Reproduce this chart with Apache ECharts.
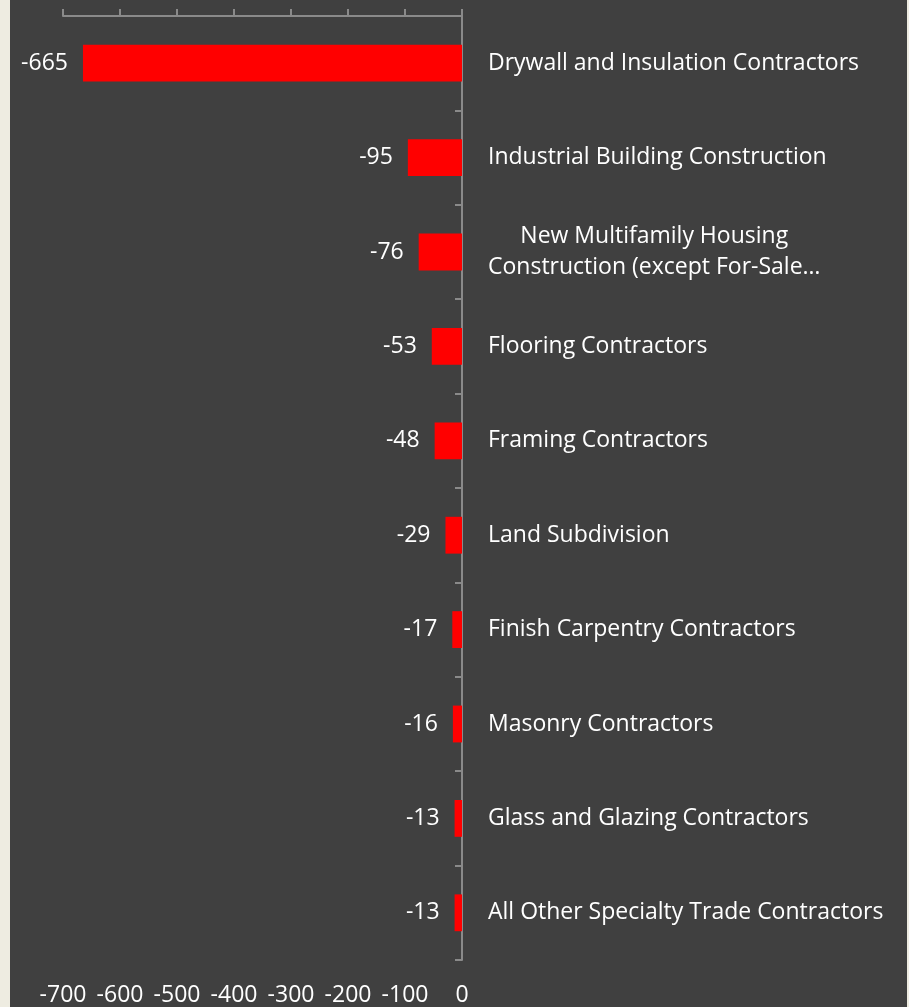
<!DOCTYPE html>
<html>
<head>
<meta charset="utf-8">
<script src="https://cdn.jsdelivr.net/npm/echarts@6/dist/echarts.min.js"></script>
<style>
html,body{margin:0;padding:0;background:#EEECE1;}
#bg{position:absolute;left:10px;top:0;width:897px;height:1007px;background:#404040;}
#chart{position:absolute;left:0;top:0;width:909px;height:1007px;}
</style>
</head>
<body>
<div id="bg"></div>
<div id="chart"></div>
<script>
const categories = [
  'Drywall and Insulation Contractors',
  'Industrial Building Construction',
  'New Multifamily Housing\nConstruction (except For-Sale…',
  'Flooring Contractors',
  'Framing Contractors',
  'Land Subdivision',
  'Finish Carpentry Contractors',
  'Masonry Contractors',
  'Glass and Glazing Contractors',
  'All Other Specialty Trade Contractors'
];
const values = [-665, -95, -76, -53, -48, -29, -17, -16, -13, -13];
const xMin = -700, xMax = 0, xStep = 100;

const FONT = 'Open Sans';
const FS = 23;
const chart = echarts.init(document.getElementById('chart'), null, {renderer: 'canvas'});
chart.setOption({
  backgroundColor: 'transparent',
  animation: false,
  textStyle: {fontFamily: FONT},
  grid: {left: 63, right: 447, top: 16, bottom: 47, containLabel: false},
  xAxis: [
    {
      type: 'value', position: 'top', min: xMin, max: xMax, interval: xStep,
      axisLine: {show: true, lineStyle: {color: '#8a8a8a', width: 2}},
      axisTick: {show: true, length: 7, lineStyle: {color: '#8a8a8a', width: 2}},
      axisLabel: {show: false},
      splitLine: {show: false}
    },
    {
      type: 'value', position: 'bottom', min: xMin, max: xMax, interval: xStep,
      axisLine: {show: false}, axisTick: {show: false},
      axisLabel: {show: true, color: '#ffffff', fontSize: 23, fontFamily: FONT, margin: 24},
      splitLine: {show: false}
    }
  ],
  yAxis: {
    type: 'category', data: categories, inverse: true, position: 'right',
    axisLine: {show: true, lineStyle: {color: '#8a8a8a', width: 2}},
    axisTick: {show: true, inside: true, length: 7, lineStyle: {color: '#8a8a8a', width: 2}},
    axisLabel: {
      color: '#ffffff', fontSize: FS, fontFamily: FONT, margin: 26, lineHeight: 31,
      formatter: function (v) {
        if (v.indexOf('\n') >= 0) {
          return v.split('\n').map(s => '{c|' + s + '}').join('\n');
        }
        return v;
      },
      rich: {c: {align: 'center', color: '#ffffff', fontSize: FS, fontFamily: FONT, lineHeight: 31}}
    },
    splitLine: {show: false}
  },
  series: [{
    type: 'bar', xAxisIndex: 0, data: values,
    barCategoryGap: '61%',
    itemStyle: {color: '#ff0000'},
    label: {show: true, position: 'left', distance: 15, color: '#ffffff', fontSize: 23, fontFamily: FONT}
  }]
});
</script>
</body>
</html>
